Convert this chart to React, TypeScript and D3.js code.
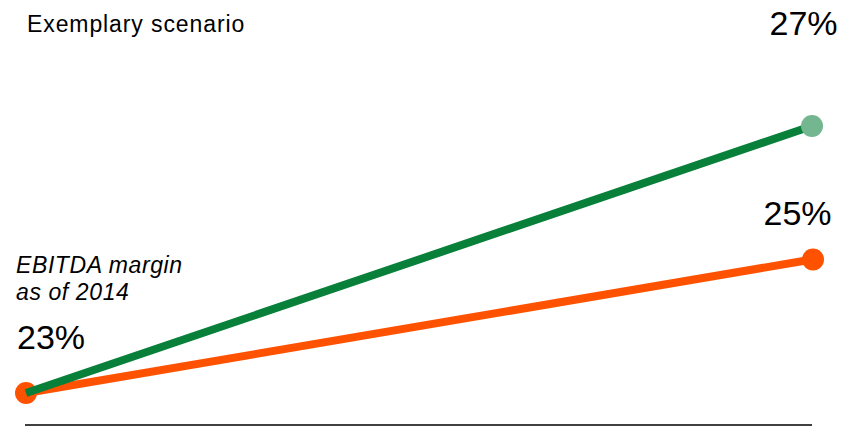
import React from "react";
import * as d3 from "d3";

const periods = [0, 1];
const baseValues = [23, 25];
const scenarioValues = [23, 27];
const endLabels = ["23%", "25%", "27%"];
const title = "Exemplary scenario";
const noteLines = ["EBITDA margin", "as of 2014"];

const W = 854;
const H = 427;
const FONT = "'Liberation Sans', Arial, sans-serif";

export default function App() {
  const x = d3.scaleLinear().domain([0, 1]).range([26, 812]);
  const y = d3.scaleLinear().domain([23, 27]).range([393, 126]);
  const line = d3
    .line<number>()
    .x((_, i) => x(periods[i]))
    .y((d) => y(d));

  return (
    <div style={{ position: "fixed", left: 0, top: 0 }}>
      <svg width={W} height={H} style={{ display: "block", background: "#fff" }}>
        <line x1={25} x2={812} y1={425} y2={425} stroke="#000" strokeWidth={1.6} />
        <path d={line(baseValues) || ""} fill="none" stroke="#ff5200" strokeWidth={8} />
        {baseValues.map((v, i) => (
          <circle key={"b" + i} cx={x(periods[i]) + (i === 1 ? 1 : 0)} cy={y(v)} r={11} fill="#ff5200" />
        ))}
        <path d={line(scenarioValues) || ""} fill="none" stroke="#08803a" strokeWidth={8} />
        <circle cx={x(periods[1])} cy={y(scenarioValues[1])} r={11} fill="#73b68f" />
        <text x={27} y={32} fontFamily={FONT} fontSize={23} letterSpacing={0.9} fill="#000">
          {title}
        </text>
        <text x={803.5} y={35} fontFamily={FONT} fontSize={34} textAnchor="middle" fill="#000">
          {endLabels[2]}
        </text>
        <text x={797.5} y={y(baseValues[1]) - 35} fontFamily={FONT} fontSize={34} textAnchor="middle" fill="#000">
          {endLabels[1]}
        </text>
        <text x={17} y={349} fontFamily={FONT} fontSize={34} fill="#000">
          {endLabels[0]}
        </text>
        {noteLines.map((t, i) => (
          <text key={t} x={16} y={273 + i * 27} fontFamily={FONT} fontSize={23} letterSpacing={0.6} fontStyle="italic" fill="#000">
            {t}
          </text>
        ))}
      </svg>
    </div>
  );
}
